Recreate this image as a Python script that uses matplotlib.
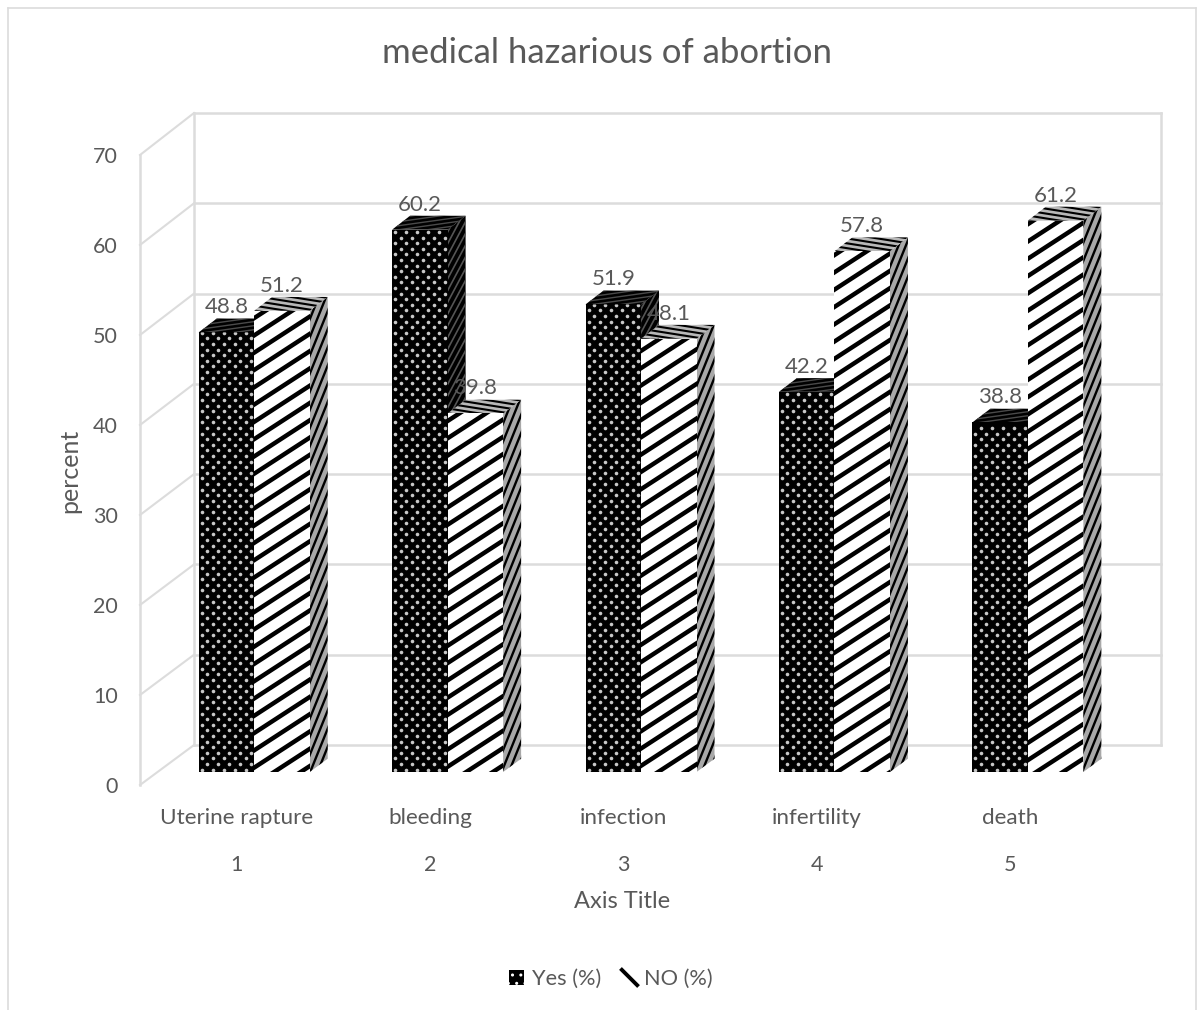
import numpy as np
import matplotlib
matplotlib.use("Agg")
import matplotlib.pyplot as plt
from matplotlib.patches import Polygon, Patch
from matplotlib.path import Path
from matplotlib.collections import LineCollection
from matplotlib.lines import Line2D
from matplotlib.transforms import IdentityTransform

plt.rcParams['font.family'] = ['Lato', 'DejaVu Sans']
plt.rcParams['hatch.linewidth'] = 1.0

categories = ['Uterine rapture', 'bleeding', 'infection', 'infertility', 'death']
numbers = ['1', '2', '3', '4', '5']
yes = [48.8, 60.2, 51.9, 42.2, 38.8]
no = [51.2, 39.8, 48.1, 57.8, 61.2]
yticks = [0, 10, 20, 30, 40, 50, 60, 70]

GRAY = '#595959'
GRID = '#dcdcdc'

# oblique projection: offset of the back wall in data units
DX = 0.279
DY = 4.44
D0 = 0.325
D1 = 0.658
BAR_W = 0.287


def proj(x, v, d):
    return (x + d * DX, v * (1 + 0.0032 * d) + d * DY)


def faces(x0, x1, v):
    front = [proj(x0, 0, D0), proj(x1, 0, D0), proj(x1, v, D0), proj(x0, v, D0)]
    top = [proj(x0, v, D0), proj(x1, v, D0), proj(x1, v, D1), proj(x0, v, D1)]
    side = [proj(x1, 0, D0), proj(x1, 0, D1), proj(x1, v, D1), proj(x1, v, D0)]
    return front, top, side


def stripes(ax, pts, face, line, angle, spacing, lw, zorder):
    # filled face with parallel lines clipped to its outline
    poly = Polygon(pts, closed=True, facecolor=face, edgecolor='none', zorder=zorder, clip_on=False)
    ax.add_patch(poly)
    p = ax.transData.transform(pts)
    c = p.mean(axis=0)
    r = np.hypot(*(p.max(axis=0) - p.min(axis=0)))
    t = np.radians(angle)
    u = np.array([np.cos(t), np.sin(t)])
    n = np.array([-u[1], u[0]])
    segs = []
    for k in np.arange(-r, r, spacing):
        segs.append([c + n * k - u * r, c + n * k + u * r])
    lc = LineCollection(segs, colors=line, linewidths=lw, transform=IdentityTransform(), zorder=zorder)
    ax.add_collection(lc, autolim=False)
    lc.set_clip_path(poly)


def dots(ax, pts, zorder, step_x=11.0, step_y=5.6, ms=2.6):
    # black face with a staggered grid of small light dots
    poly = Polygon(pts, closed=True, facecolor='black', edgecolor='none', zorder=zorder, clip_on=False)
    ax.add_patch(poly)
    p = ax.transData.transform(pts)
    lo, hi = p.min(axis=0), p.max(axis=0)
    xs, ys = [], []
    for j, y in enumerate(np.arange(lo[1] + 2.5, hi[1], step_y)):
        for x in np.arange(lo[0] + 3 + (j % 2) * step_x / 2, hi[0], step_x):
            xs.append(x)
            ys.append(y)
    m, = ax.plot(xs, ys, ls='none', marker='o', ms=ms, mec='none', mfc='#c8c8c8',
                 transform=IdentityTransform(), zorder=zorder)
    m.set_clip_path(poly)


fig = plt.figure(figsize=(12.04, 10.10), dpi=100, facecolor='white')
ax = fig.add_axes([140 / 1204, 225 / 1010, 967 / 1204, 630 / 1010])
ax.set_xlim(0.5, 5.5)
ax.set_ylim(0, 70)
ax.patch.set_visible(False)
for s in ['top', 'right', 'bottom']:
    ax.spines[s].set_visible(False)
ax.spines['left'].set_color(GRID)
ax.spines['left'].set_linewidth(1.8)

# chart outer border
for xs, ys in [([8, 8], [0, 1002]), ([8, 1196], [1002, 1002]), ([1196, 1196], [1002, 0])]:
    fig.add_artist(Line2D(np.array(xs) / 1204, np.array(ys) / 1010, color=GRID, lw=1.2))

# back wall, left wall and floor
for v in yticks:
    a = proj(0.5, v, 0)
    b = proj(0.5, v, 1)
    c = proj(5.5, v, 1)
    ax.plot([a[0], b[0]], [a[1], b[1]], color=GRID, lw=1.5, clip_on=False, zorder=1)
    ax.plot([b[0], c[0]], [b[1], c[1]], color=GRID, lw=1.8, clip_on=False, zorder=1)
for x in [0.5, 5.5]:
    a = proj(x, 0, 1)
    b = proj(x, 70, 1)
    ax.plot([a[0], b[0]], [a[1], b[1]], color=GRID, lw=1.8, clip_on=False, zorder=1)

# bars
fig.canvas.draw()
for i in range(len(categories)):
    x0 = i + 1 - BAR_W
    z = 3 + i * 2
    front, top, side = faces(x0, x0 + BAR_W, yes[i])
    stripes(ax, side, 'black', '#555555', 62, 5.5, 1.2, z)
    stripes(ax, top, 'black', '#4a4a4a', 8, 4.0, 1.0, z)
    dots(ax, front, z)

    front, top, side = faces(x0 + BAR_W, x0 + 2 * BAR_W, no[i])
    stripes(ax, side, '#a8a8a8', 'black', 68, 6.8, 1.7, z + 1)
    stripes(ax, top, '#b8b8b8', 'black', -9, 4.8, 1.5, z + 1)
    stripes(ax, front, 'white', 'black', 33, 14.5, 3.2, z + 1)

    ax.annotate(f'{yes[i]}', proj(x0 + BAR_W / 2, yes[i], D0), xytext=(0, 18), textcoords='offset points',
                ha='center', va='center', fontsize=16, color=GRAY, zorder=50, annotation_clip=False)
    ax.annotate(f'{no[i]}', proj(x0 + 1.5 * BAR_W, no[i], D0), xytext=(0, 18), textcoords='offset points',
                ha='center', va='center', fontsize=16, color=GRAY, zorder=50, annotation_clip=False)
    ax.annotate(categories[i], (i + 1, 0), xytext=(0, -23.5), textcoords='offset points',
                ha='center', va='center', fontsize=16.2, color=GRAY, annotation_clip=False)

ax.set_yticks(yticks)
ax.set_xticks(range(1, 6))
ax.set_xticklabels(numbers)
ax.tick_params(axis='y', length=0, pad=16, labelsize=15.5, labelcolor=GRAY)
ax.tick_params(axis='x', length=0, pad=57.5, labelsize=15.5, labelcolor=GRAY)
for lab in ax.get_xticklabels():
    lab.set_va('center')

fig.text(607 / 1204, 1 - 53 / 1010, 'medical hazarious of abortion', ha='center', va='center', fontsize=25, color=GRAY)
fig.text(70 / 1204, 1 - 471 / 1010, 'percent', rotation=90, ha='center', va='center', fontsize=18, color=GRAY)
fig.text(622 / 1204, 1 - 901 / 1010, 'Axis Title', ha='center', va='center', fontsize=17, color=GRAY)

slash = Path([(-0.5, 0.5), (0.5, -0.5)])
handles = [Patch(facecolor='black', edgecolor='white', hatch='..', lw=0, label='Yes (%)'),
           Line2D([], [], ls='none', marker=slash, ms=13, mew=2.8, mec='black', label='NO (%)')]
fig.legend(handles=handles, loc='center', bbox_to_anchor=(611 / 1204, 1 - 979 / 1010), ncol=2, frameon=False,
           fontsize=15.7, labelcolor=GRAY, handlelength=0.68, handleheight=0.68, handletextpad=0.35,
           columnspacing=0.95, numpoints=1)

fig.savefig('out.png', dpi=100)
